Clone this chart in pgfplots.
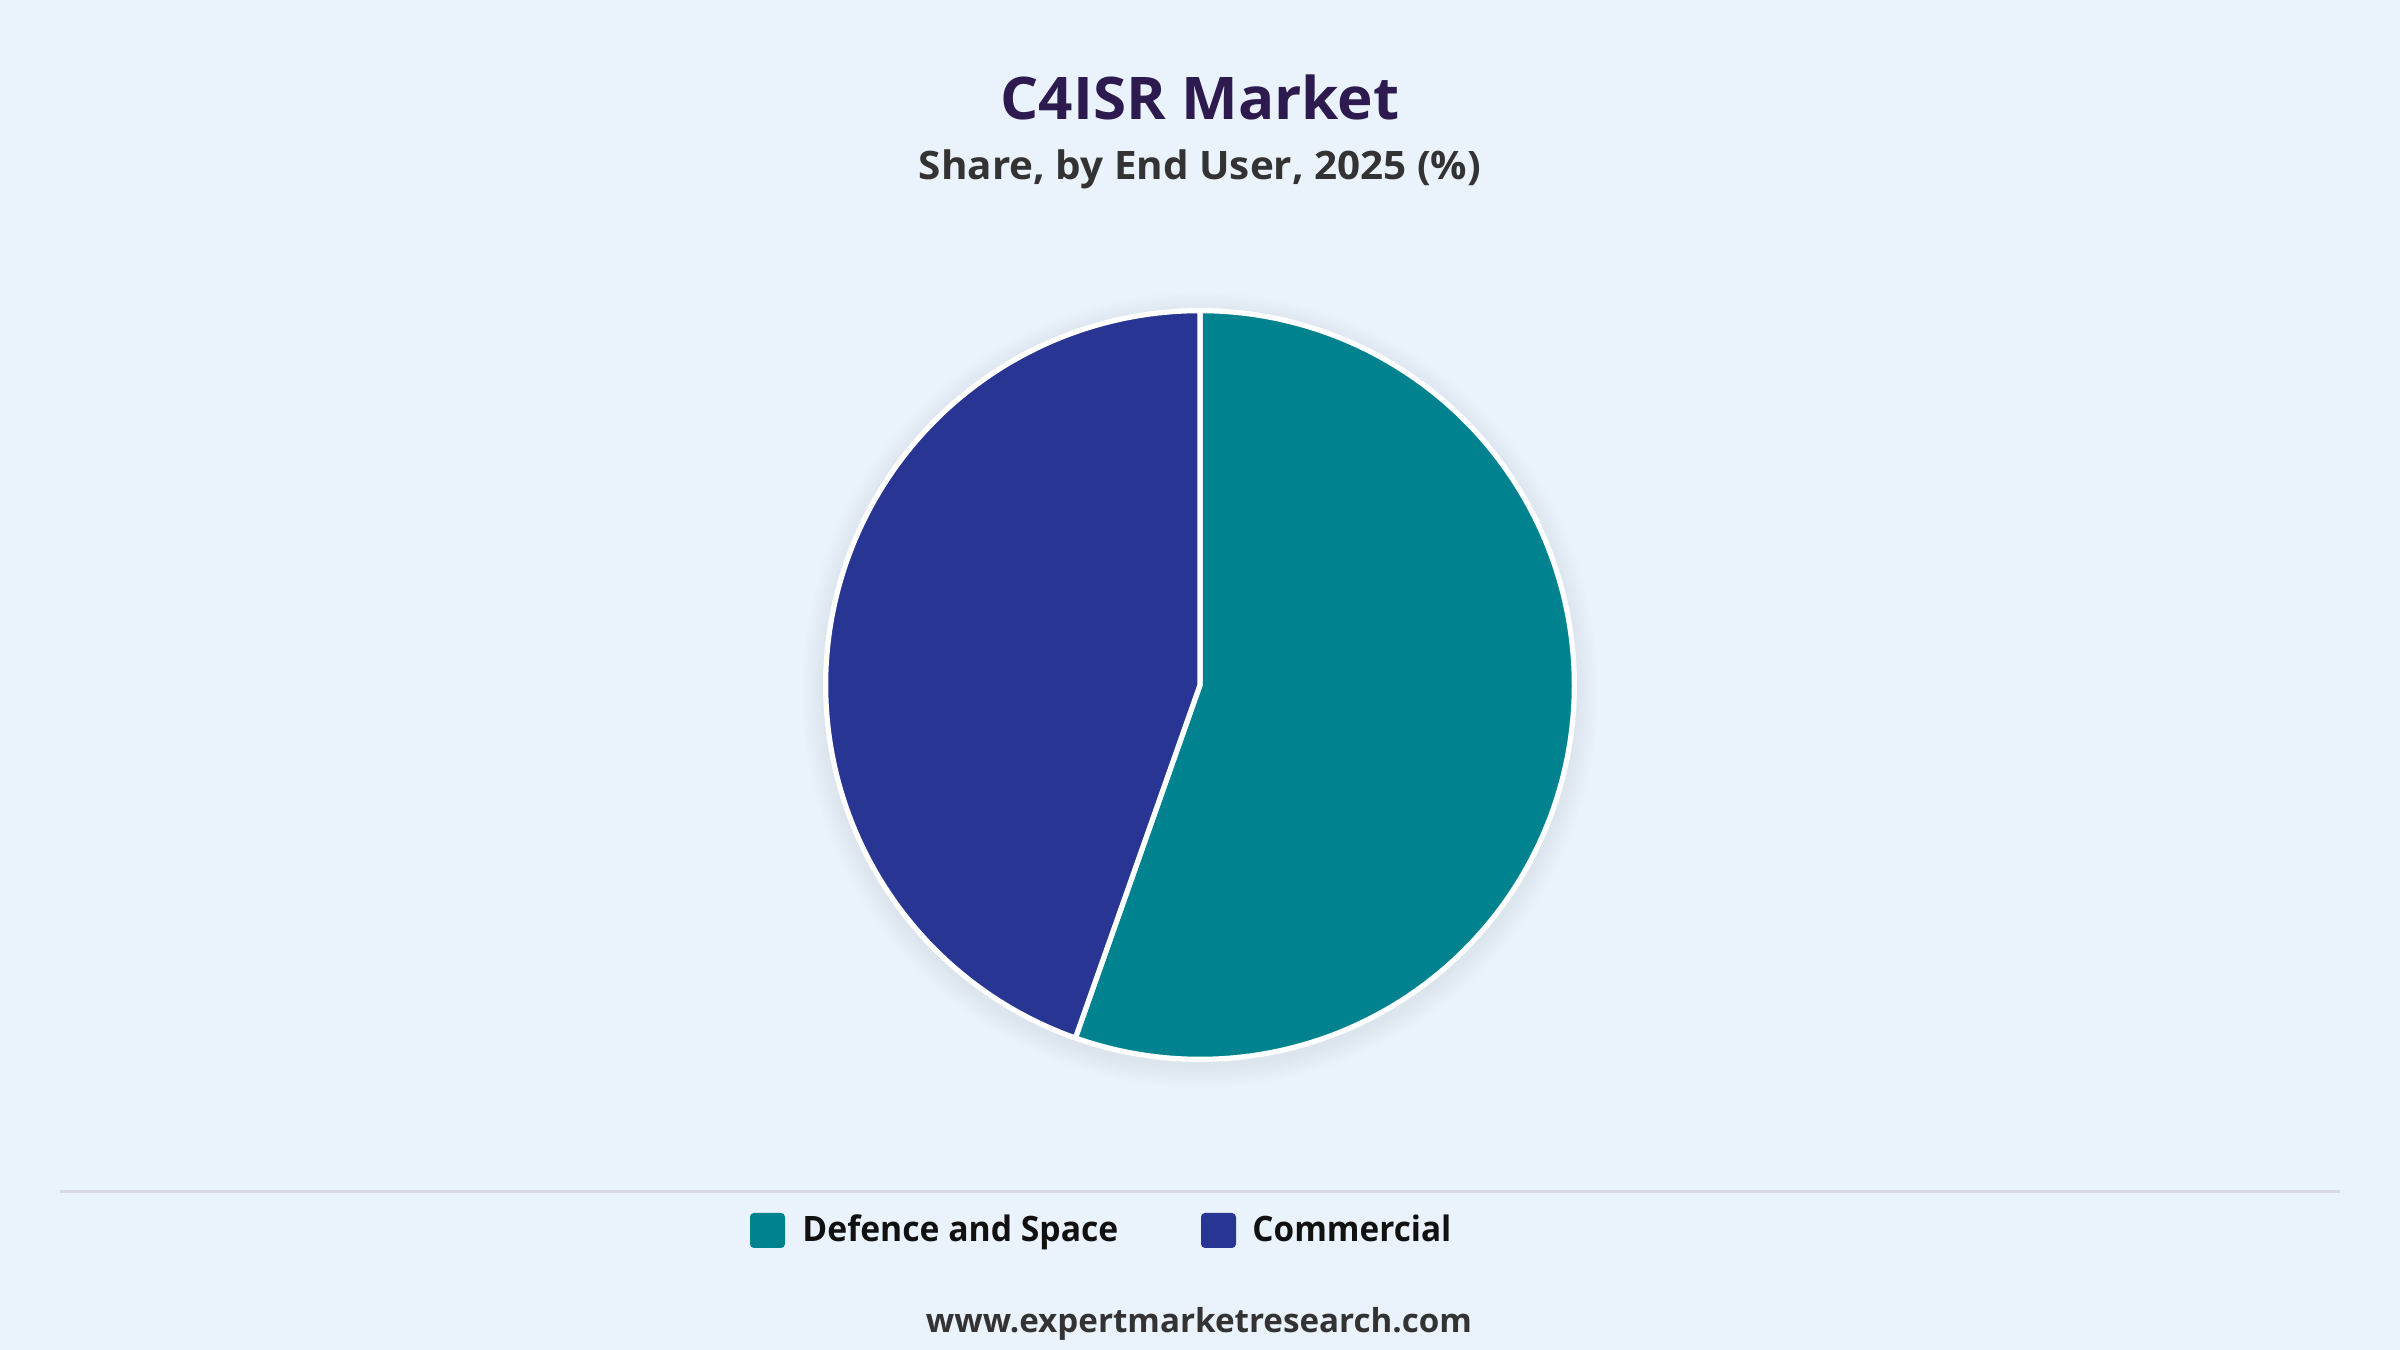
\documentclass[border=0pt]{standalone}
\usepackage{pgfplots}
\pgfplotsset{compat=1.18}
\usepackage{fontspec}
\usepackage{graphicx}
\setmainfont{Open Sans}
\definecolor{bgc}{HTML}{EAF2FB}
\definecolor{defc}{HTML}{00838F}
\definecolor{comc}{HTML}{283593}
\definecolor{titc}{HTML}{2D1B4F}
\definecolor{subc}{HTML}{333333}
\definecolor{sepc}{HTML}{D7DBE1}
\definecolor{legc}{HTML}{111111}
% shares (%)
\def\shareDef{55.4}
\def\shareCom{44.6}
\pgfmathsetmacro\angA{90-3.6*\shareDef}
\pgfmathsetmacro\angB{\angA+360}
\def\rr{0.993}
\begin{document}
\begin{tikzpicture}
\fill[bgc] (0,0) rectangle (1200pt,675pt);
% soft shadow
\foreach \i in {1,...,14} {\fill[black, opacity=0.005] (600pt,330pt) circle ({188pt+\i*0.8pt});}
\begin{axis}[at={(600pt,332.5pt)}, anchor=center, scale only axis,
  width=377pt, height=377pt, xmin=-1, xmax=1, ymin=-1, ymax=1,
  hide axis, clip=false]
\addplot[draw=white, line width=2.6pt, fill=defc, line join=round,
  domain=\angA:90, samples=200] ({\rr*cos(x)},{\rr*sin(x)}) -- (0,0) -- cycle;
\addplot[draw=white, line width=2.6pt, fill=comc, line join=round,
  domain=90:\angB, samples=200] ({\rr*cos(x)},{\rr*sin(x)}) -- (0,0) -- cycle;
\end{axis}
% titles
\node[anchor=base, inner sep=0, text=titc, font=\fontsize{29.4pt}{34pt}\selectfont\bfseries] at (600pt,615pt) {\resizebox{199.5pt}{\height}{C4ISR Market}};
\node[anchor=base, inner sep=0, text=subc, font=\fontsize{19.6pt}{24pt}\selectfont\bfseries] at (600pt,585pt) {\resizebox{281pt}{\height}{Share, by End User, 2025 (\%)}};
% separator
\draw[sepc, line width=1.5pt] (30pt,79pt) -- (1170pt,79pt);
% legend
\fill[defc, rounded corners=2pt] (375pt,51pt) rectangle (392.5pt,68.5pt);
\fill[comc, rounded corners=2pt] (600.5pt,51pt) rectangle (618pt,68.5pt);
\node[anchor=base west, inner sep=0, text=legc, font=\fontsize{17.5pt}{21pt}\selectfont\bfseries] at (401pt,54pt) {\resizebox{158pt}{\height}{Defence and Space}};
\node[anchor=base west, inner sep=0, text=legc, font=\fontsize{17.5pt}{21pt}\selectfont\bfseries] at (626pt,54pt) {\resizebox{99.5pt}{\height}{Commercial}};
% footer
\node[anchor=base, inner sep=0, text=subc, font=\fontsize{16.5pt}{20pt}\selectfont\bfseries] at (599.5pt,9pt) {\resizebox{273pt}{\height}{www.expertmarketresearch.com}};
\end{tikzpicture}
\end{document}
